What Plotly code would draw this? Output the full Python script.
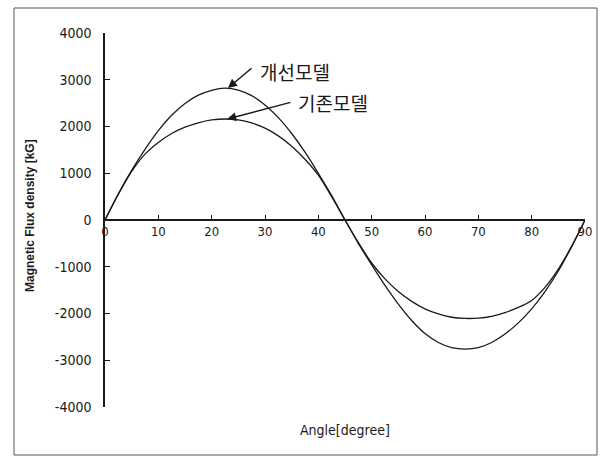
import plotly.graph_objects as go

angle = [0, 2.5, 5, 7.5, 10, 12.5, 15, 17.5, 20, 22.5, 25, 27.5, 30, 32.5, 35, 37.5, 40, 42.5, 45,
         47.5, 50, 52.5, 55, 57.5, 60, 62.5, 65, 67.5, 70, 72.5, 75, 77.5, 80, 82.5, 85, 87.5, 90]

improved = [0, 560, 1060, 1510, 1910, 2240, 2490, 2670, 2775, 2820, 2780, 2660, 2460, 2190, 1850, 1450, 1000, 520, 0,
            -500, -960, -1400, -1800, -2150, -2430, -2620, -2730, -2760, -2730, -2620, -2440, -2200, -1900, -1530, -1090, -570, 0]

existing = [0, 550, 1040, 1410, 1660, 1850, 1985, 2080, 2140, 2160, 2140, 2075, 1965, 1800, 1580, 1300, 960, 500, 0,
            -480, -920, -1260, -1530, -1740, -1900, -2010, -2080, -2105, -2100, -2060, -1980, -1870, -1720, -1440, -1050, -560, 0]

x_ticks = [0, 10, 20, 30, 40, 50, 60, 70, 80, 90]
y_ticks = [-4000, -3000, -2000, -1000, 0, 1000, 2000, 3000, 4000]
y_tick_labels = ["-4000", "-3000", "-2000", "-1000", "0", "1000", "2000", "3000", "4000"]

label_improved = "개선모델"
label_existing = "기존모델"

NARROW = "Liberation Sans Narrow, DejaVu Sans Condensed, DejaVu Sans, sans-serif"
KR = "Noto Sans CJK KR, sans-serif"

fig = go.Figure()
fig.add_trace(go.Scatter(x=angle, y=improved, mode="lines", line=dict(color="#1a1a1a", width=1.3, shape="spline", smoothing=0.8),
                         showlegend=False, hoverinfo="skip"))
fig.add_trace(go.Scatter(x=angle, y=existing, mode="lines", line=dict(color="#1a1a1a", width=1.3, shape="spline", smoothing=0.8),
                         showlegend=False, hoverinfo="skip"))

fig.update_layout(
    width=603, height=458,
    margin=dict(l=105, r=18, t=33, b=51),
    paper_bgcolor="white", plot_bgcolor="white",
    xaxis=dict(range=[0, 90], tickvals=x_ticks, showgrid=False, zeroline=False,
               showline=True, linecolor="#1a1a1a", linewidth=1.5,
               anchor="free", position=0.5, ticks="inside", ticklen=4, tickcolor="#1a1a1a",
               tickfont=dict(family=NARROW, size=13, color="#1a1a1a")),
    yaxis=dict(range=[-4000, 4000], tickvals=y_ticks, ticktext=y_tick_labels, showgrid=False, zeroline=False,
               showline=True, linecolor="#1a1a1a", linewidth=1.5,
               ticks="inside", ticklen=5, tickcolor="#1a1a1a", ticklabelstandoff=9,
               tickfont=dict(family=NARROW, size=14, color="#1a1a1a")),
)

# y axis title
fig.add_annotation(xref="paper", yref="paper", x=(30 - 105) / 480, y=(407 - 216) / 374,
                   text="<b>Magnetic Flux density [kG]</b>", textangle=-90, showarrow=False,
                   font=dict(family="Liberation Sans, Arial, sans-serif", size=12, color="#1a1a1a"),
                   xanchor="center", yanchor="middle")
# x axis title
fig.add_annotation(xref="paper", yref="paper", x=(345 - 105) / 480, y=(407 - 430) / 374,
                   text="Angle[degree]", showarrow=False,
                   font=dict(family=NARROW, size=14, color="#1a1a1a"),
                   xanchor="center", yanchor="middle")

# arrows
fig.add_annotation(x=23.06, y=2824, ax=27.75, ay=3273, axref="x", ayref="y", xref="x", yref="y",
                   text="", showarrow=True, arrowhead=2, arrowsize=1.2, arrowwidth=1.5, arrowcolor="#1a1a1a")
fig.add_annotation(x=22.9, y=2160, ax=35.06, ay=2524, axref="x", ayref="y", xref="x", yref="y",
                   text="", showarrow=True, arrowhead=2, arrowsize=1.2, arrowwidth=1.5, arrowcolor="#1a1a1a")
# labels
fig.add_annotation(x=28.6, y=3166, xref="x", yref="y", text=label_improved, showarrow=False,
                   xanchor="left", yanchor="middle", font=dict(family=KR, size=19, color="#1a1a1a"))
fig.add_annotation(x=35.9, y=2503, xref="x", yref="y", text=label_existing, showarrow=False,
                   xanchor="left", yanchor="middle", font=dict(family=KR, size=19, color="#1a1a1a"))

# outer frame
fig.add_shape(type="rect", xref="paper", yref="paper",
              x0=(14 - 105) / 480, x1=(597 - 105) / 480, y0=(407 - 455) / 374, y1=(407 - 8) / 374,
              line=dict(color="#555555", width=1), layer="below")

fig.write_html("out.html")
